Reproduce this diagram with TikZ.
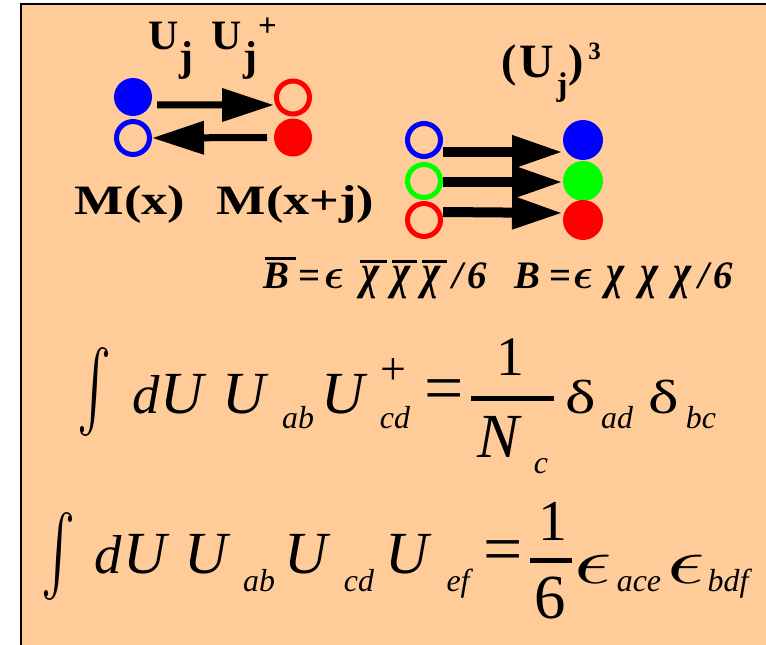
\documentclass[tikz,border=0pt]{standalone}
\usepackage{fontspec}
\usepackage{graphicx}
\setmainfont{Liberation Serif}
\newfontfamily\tnr{Liberation Serif}
\usetikzlibrary{arrows.meta}
\definecolor{peach}{RGB}{255,204,153}
\definecolor{pgreen}{RGB}{0,255,0}
\newcommand\fs[1]{\fontsize{#1}{#1}\selectfont}
\newcommand\gl[5]{\node[gl,#4] (#1) at (#2,#3) {#5};}
\newcommand\epsbig{\scalebox{9.3}[6.6]{\fontsize{10}{10}\selectfont$\epsilon$}}
\newcommand\epsbold{\scalebox{4.2}[4.3]{\fontsize{10}{10}\selectfont\boldmath$\epsilon$}}
\newcommand\dlt{\scalebox{1.35}[1]{δ}}
\begin{document}
\begin{tikzpicture}[x=1bp,y=-1bp,
  gl/.style={inner sep=0pt,outer sep=0pt,anchor=base},
  dotf/.style={circle,inner sep=0pt,outer sep=0pt,minimum size=#1,draw=none},
  doto/.style={circle,inner sep=0pt,minimum size=33bp,line width=5bp,fill=none},
  arrA/.style={line width=7bp,-{Triangle[length=52bp,width=32bp]}},
  arrB/.style={line width=10bp,-{Triangle[length=51bp,width=31bp]}},
  iU/.style={font=\tnr\fs{60}\itshape},
  isub/.style={font=\tnr\fs{32}\itshape},
  up/.style={font=\tnr\fs{#1}},
  bl/.style={font=\tnr\fs{42}\bfseries},
  bi/.style={font=\tnr\fs{39}\bfseries\itshape},
  bu/.style={font=\tnr\fs{39}\bfseries},
  bar/.style={line width=3bp}]
\useasboundingbox (0,0) rectangle (766,645);
\fill[peach] (21,4) rectangle (766,645);
\draw[line width=2.5bp] (21,645) -- (21,4) -- (766,4);

% left pair of mesons
\node[dotf=38bp,fill=blue] (bf) at (133,97) {};
\node[doto,draw=blue] (bo) at (133,138) {};
\node[doto,draw=red] (ro) at (293,97.5) {};
\node[dotf=38bp,fill=red] (rf) at (293,137.5) {};
\draw[arrA] ([shift={(5,8)}]bf.east) -- ([shift={(0,7.5)}]ro.west);
\draw[arrA] ([shift={(-7,0)}]rf.west) -- (bo.east);

% baryon
\node[doto,draw=blue] (obl) at (424,140) {};
\node[doto,draw=pgreen] (ogr) at (424,181) {};
\node[doto,draw=red] (ord) at (424,220) {};
\node[dotf=40bp,fill=blue] (fbl) at (583,140) {};
\node[dotf=40bp,fill=pgreen] (fgr) at (583,181) {};
\node[dotf=40bp,fill=red] (frd) at (583,220) {};
\draw[arrB] ([shift={(0,12)}]obl.east) -- ([shift={(0,12)}]fbl.west);
\draw[arrB] ([shift={(0,1)}]ogr.east) -- ([shift={(0,1)}]fgr.west);
\draw[arrB] ([shift={(0,-8)}]ord.east) -- ([shift={(0,-7)}]frd.west);

% top labels
\gl{Ua}{164}{50}{bl}{U}
\gl{ja}{186}{71}{bl}{j}
\gl{Ub}{227}{50}{bl}{U}
\gl{jb}{250}{71}{bl}{j}
\gl{pla}{267.5}{37}{font=\tnr\fs{33}\bfseries}{+}
\gl{lp}{509}{77}{font=\tnr\fs{46}\bfseries}{(}
\gl{Uc}{537}{78}{font=\tnr\fs{48}\bfseries}{U}
\gl{jc}{562}{96}{font=\tnr\fs{33}\bfseries}{j}
\gl{rp}{576.5}{77}{font=\tnr\fs{46}\bfseries}{)}
\gl{three}{594.5}{60}{font=\tnr\fs{25}\bfseries}{3}
\gl{Mx}{130}{215}{bl}{\scalebox{1.25}[1]{M(x)}}
\gl{Mxj}{295.5}{215}{bl}{\scalebox{1.25}[1]{M(x+j)}}

% baryon formulas
\gl{Bb}{276}{288}{bi}{B}
\draw[bar] (265,258) -- (296,258);
\gl{eqb1}{310}{288}{bu}{=}
\gl{epb1}{334}{288}{bu}{\epsbold}
\gl{chb1}{371}{288}{bi}{\scalebox{1}[1.25]{χ}}
\gl{chb2}{402}{288}{bi}{\scalebox{1}[1.25]{χ}}
\gl{chb3}{432}{288}{bi}{\scalebox{1}[1.25]{χ}}
\draw[bar] (360,261.5) -- (387,261.5);
\draw[bar] (392,261.5) -- (417,261.5);
\draw[bar] (422,261.5) -- (447,261.5);
\gl{slb1}{457.5}{288}{bi}{/}
\gl{sxb1}{477.5}{288}{bi}{6}
\gl{B}{527}{288}{bi}{B}
\gl{eqb2}{560.5}{288}{bu}{=}
\gl{epb2}{583}{288}{bu}{\epsbold}
\gl{chc1}{616}{288}{bi}{\scalebox{1}[1.25]{χ}}
\gl{chc2}{650}{288}{bi}{\scalebox{1}[1.25]{χ}}
\gl{chc3}{683}{288}{bi}{\scalebox{1}[1.25]{χ}}
\gl{slb2}{704}{288}{bi}{/}
\gl{sxb2}{723}{288}{bi}{6}

% first integral
\gl{int1}{95}{348}{anchor=north}{\resizebox*{34bp}{89bp}{$\int$}}
\gl{d1}{146}{413}{font=\tnr\fs{55}\itshape}{d}
\gl{U1a}{182}{413}{iU}{U}
\gl{U1b}{244}{413}{iU}{U}
\gl{ab1}{298}{428}{isub}{ab}
\gl{U1c}{343}{413}{iU}{U}
\gl{pl1}{393.5}{384}{up=46}{+}
\gl{cd1}{395}{428}{isub}{cd}
\gl{eq1}{444}{411}{up=70}{=}
\draw[line width=5bp] (471,398) -- (554,398);
\gl{one1}{510}{375}{up=56}{1}
\gl{N1}{498}{457}{font=\tnr\fs{63}\itshape}{N}
\gl{c1}{541}{473}{isub}{c}
\gl{dl1}{581}{413}{up=48}{\dlt}
\gl{ad1}{617}{428}{isub}{ad}
\gl{dl2}{664}{413}{up=48}{\dlt}
\gl{bc1}{701}{428}{isub}{bc}

% second integral
\gl{int2}{59}{512}{anchor=north}{\resizebox*{34bp}{88bp}{$\int$}}
\gl{d2}{108}{573}{font=\tnr\fs{55}\itshape}{d}
\gl{U2a}{145}{573}{iU}{U}
\gl{U2b}{206}{573}{iU}{U}
\gl{ab2}{259}{591}{isub}{ab}
\gl{U2c}{306}{573}{iU}{U}
\gl{cd2}{359}{591}{isub}{cd}
\gl{U2d}{407}{573}{iU}{U}
\gl{ef2}{458}{591}{isub}{ef}
\gl{eq2}{503.5}{572}{up=70}{=}
\draw[line width=5bp] (530,560) -- (572,560);
\gl{one2}{553}{540}{up=58}{1}
\gl{six2}{550}{618}{up=63}{6}
\gl{ep1}{593.5}{583}{up=60}{\epsbig}
\gl{ace2}{639}{591}{isub}{ace}
\gl{ep2}{686}{583}{up=60}{\epsbig}
\gl{bdf2}{728}{591}{isub}{bdf}
\end{tikzpicture}
\end{document}
